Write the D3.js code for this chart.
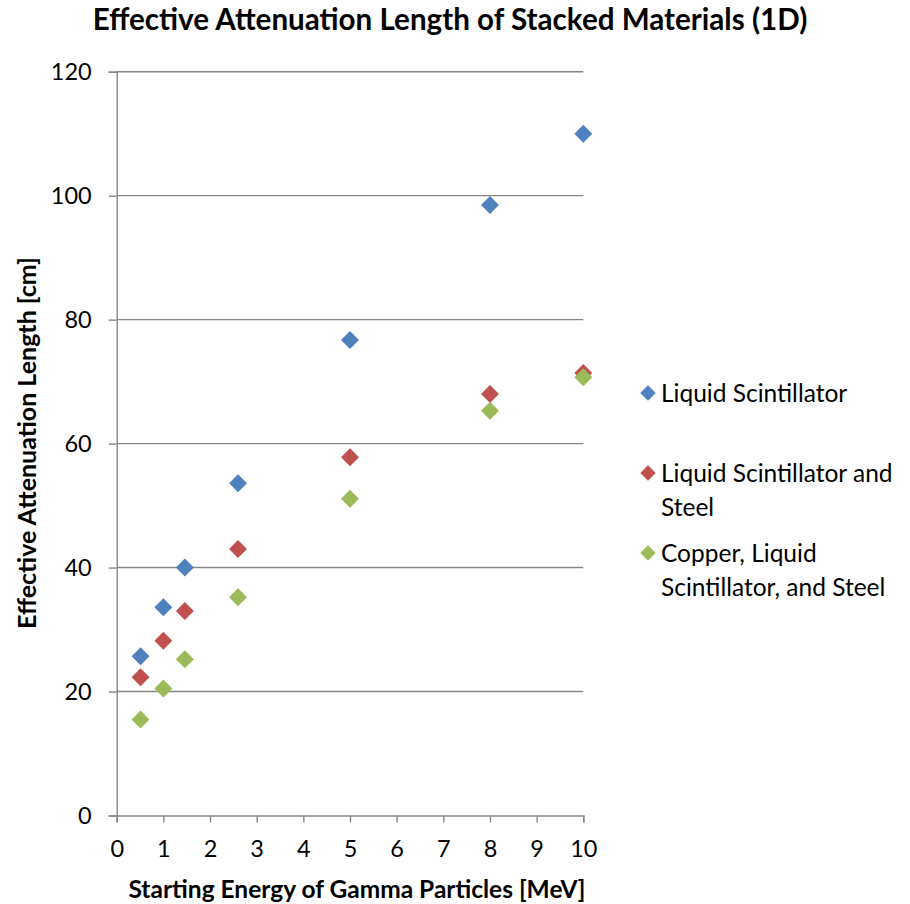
<!DOCTYPE html>
<html>
<head>
<meta charset="utf-8">
<script src="https://cdn.jsdelivr.net/npm/d3@7"></script>
<style>
  html, body { margin: 0; padding: 0; background: #fff; }
  text { font-family: Lato, "Open Sans", sans-serif; fill: #000; }
</style>
</head>
<body>
<svg id="chart" width="910" height="904"></svg>
<script>
// Starting gamma energies (MeV)
const energies = [0.511, 1, 1.46, 2.6, 5, 8, 10];

// Effective attenuation length (cm) per material stack
const liquidScintillator = [25.7, 33.6, 40.0, 53.6, 76.7, 98.5, 110.0];
const liquidScintillatorSteel = [22.3, 28.2, 33.0, 43.0, 57.8, 68.0, 71.4];
const copperScintillatorSteel = [15.5, 20.5, 25.2, 35.2, 51.1, 65.3, 70.7];

const seriesNames = [
  ["Liquid Scintillator"],
  ["Liquid Scintillator and", "Steel"],
  ["Copper, Liquid", "Scintillator, and Steel"]
];
const seriesColors = ["#4F81BD", "#C0504D", "#9BBB59"];

const xTicks = [0, 1, 2, 3, 4, 5, 6, 7, 8, 9, 10];
const yTicks = [0, 20, 40, 60, 80, 100, 120];

const titleText = "Effective Attenuation Length of Stacked Materials (1D)";
const xTitleText = "Starting Energy of Gamma Particles [MeV]";
const yTitleText = "Effective Attenuation Length [cm]";

const series = [liquidScintillator, liquidScintillatorSteel, copperScintillatorSteel]
  .map((vals, i) => ({
    name: seriesNames[i],
    color: seriesColors[i],
    points: vals.map((v, j) => ({ x: energies[j], y: v }))
  }));

const svg = d3.select("#chart");
const plot = { left: 116.7, right: 583.3, top: 71.7, bottom: 815.5 };
const axisColor = "#878787";
const font = "Lato, 'Open Sans', sans-serif";

const x = d3.scaleLinear().domain([0, 10]).range([plot.left, plot.right]);
const y = d3.scaleLinear().domain([0, 120]).range([plot.bottom, plot.top]);

// Horizontal gridlines
svg.append("g")
  .selectAll("line")
  .data(yTicks.filter(t => t > 0))
  .join("line")
  .attr("x1", plot.left).attr("x2", plot.right)
  .attr("y1", d => y(d)).attr("y2", d => y(d))
  .attr("stroke", axisColor).attr("stroke-width", 1.4);

// Y axis
const yAxis = svg.append("g")
  .attr("transform", `translate(${plot.left},0)`)
  .call(d3.axisLeft(y).tickValues(yTicks).tickSize(8).tickPadding(17));
yAxis.select(".domain").attr("stroke", axisColor).attr("stroke-width", 1.4);
yAxis.selectAll(".tick line").attr("stroke", axisColor).attr("stroke-width", 1.4);
yAxis.selectAll(".tick text")
  .attr("font-family", font)
  .attr("font-size", 23.5).attr("fill", "#000");

// X axis
const xAxis = svg.append("g")
  .attr("transform", `translate(0,${plot.bottom})`)
  .call(d3.axisBottom(x).tickValues(xTicks).tickSize(7).tickPadding(18));
xAxis.select(".domain").attr("stroke", axisColor).attr("stroke-width", 1.4);
xAxis.selectAll(".tick line").attr("stroke", axisColor).attr("stroke-width", 1.4);
xAxis.selectAll(".tick text")
  .attr("font-family", font)
  .attr("font-size", 23.5).attr("fill", "#000");

// Diamond markers
const diamond = d3.symbol().type(d3.symbolDiamond2).size(205);
series.forEach(s => {
  svg.append("g")
    .selectAll("path")
    .data(s.points)
    .join("path")
    .attr("d", diamond)
    .attr("transform", d => `translate(${x(d.x)},${y(d.y)})`)
    .attr("fill", s.color);
});

// Title
svg.append("text")
  .attr("x", 450).attr("y", 30)
  .attr("text-anchor", "middle")
  .attr("font-size", 29.6).attr("font-weight", "bold")
  .text(titleText);

// Axis titles
svg.append("text")
  .attr("x", 357).attr("y", 898)
  .attr("text-anchor", "middle")
  .attr("font-size", 24.5).attr("font-weight", "bold")
  .text(xTitleText);

svg.append("text")
  .attr("transform", "translate(36,443) rotate(-90)")
  .attr("text-anchor", "middle")
  .attr("font-size", 25).attr("font-weight", "bold")
  .text(yTitleText);

// Legend
const legendY = [393, 473, 553];
const legendSym = d3.symbol().type(d3.symbolDiamond2).size(150);
series.forEach((s, i) => {
  const g = svg.append("g").attr("transform", `translate(648,${legendY[i]})`);
  g.append("path").attr("d", legendSym).attr("fill", s.color);
  const t = g.append("text").attr("x", 13).attr("y", 8.5).attr("font-size", 24.5);
  s.name.forEach((line, k) => {
    t.append("tspan").attr("x", 13).attr("dy", k === 0 ? 0 : 34).text(line);
  });
});
</script>
</body>
</html>
